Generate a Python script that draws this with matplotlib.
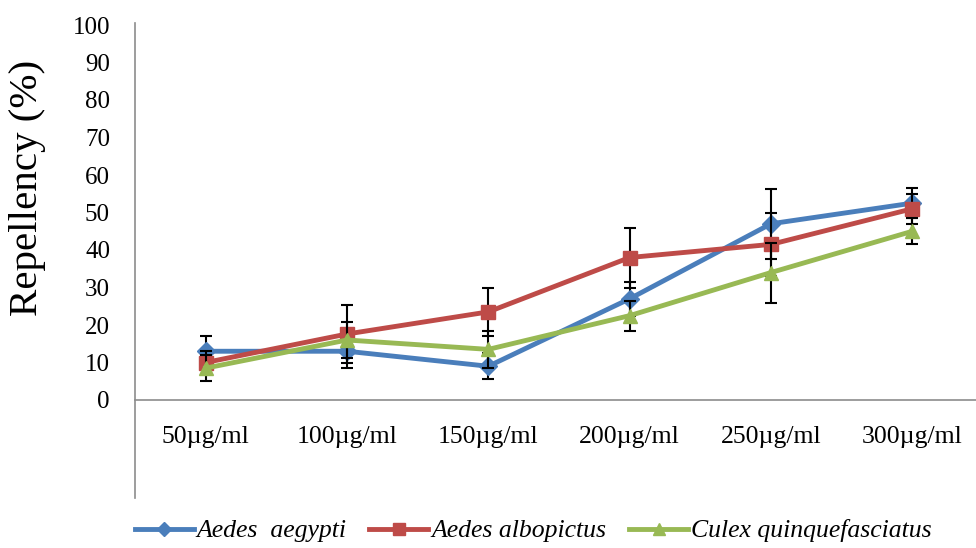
import matplotlib
matplotlib.use("Agg")
import matplotlib.pyplot as plt
from matplotlib.lines import Line2D

# Repellency of three mosquito species at increasing concentrations
concentrations = ["50µg/ml", "100µg/ml", "150µg/ml", "200µg/ml", "250µg/ml", "300µg/ml"]
aedes_aegypti = [13, 13, 9, 27, 47, 52.5]
aedes_aegypti_err = [4, 4.5, 3.5, 4.5, 9.3, 4]
aedes_albopictus = [10, 17.6, 23.5, 38, 41.5, 51]
aedes_albopictus_err = [3, 7.7, 6.5, 8, 8.5, 4]
culex_quinque = [8.5, 16, 13.5, 22.5, 34, 45]
culex_quinque_err = [3.5, 4.8, 5, 4, 8, 3.5]
y_ticks = [0, 10, 20, 30, 40, 50, 60, 70, 80, 90, 100]

series = [
    ("Aedes  aegypti", aedes_aegypti, aedes_aegypti_err, "#4A7EBB", "D", 9.5),
    ("Aedes albopictus", aedes_albopictus, aedes_albopictus_err, "#BE4B48", "s", 10.5),
    ("Culex quinquefasciatus", culex_quinque, culex_quinque_err, "#98B954", "^", 10.5),
]

plt.rcParams["font.family"] = ["Liberation Serif", "DejaVu Serif"]

W, H = 976, 548
fig = plt.figure(figsize=(W / 100, H / 100), dpi=100)
ax = fig.add_axes([135 / W, (H - 400) / H, (W - 135) / W, 375 / H])

x = list(range(len(concentrations)))
handles = []
for i, (name, vals, errs, color, marker, ms) in enumerate(series):
    ax.errorbar(x, vals, yerr=errs, fmt="none", ecolor="black",
                elinewidth=1.5, capsize=4.5, capthick=1.5, zorder=2 + 2 * i)
    ax.plot(x, vals, color=color, lw=3.5, marker=marker, ms=ms,
            mec=color, mfc=color, zorder=3 + 2 * i)
    handles.append(Line2D([], [], color=color, lw=3.5, marker=marker,
                          ms=ms * 0.8, mec=color, mfc=color))

ax.set_xlim(-0.5, 5.45)
ax.set_ylim(0, 100)
ax.set_yticks(y_ticks)
ax.set_xticks(x)
ax.set_xticklabels(concentrations)
ax.tick_params(axis="y", length=0, pad=18, labelsize=18)
ax.tick_params(axis="x", length=0, pad=19, labelsize=18.5)

for side in ("top", "right"):
    ax.spines[side].set_visible(False)
for side in ("left", "bottom"):
    ax.spines[side].set_color("#8c8c8c")
    ax.spines[side].set_linewidth(1.2)
ax.spines["left"].set_bounds(-26, 100.5)

fig.text(28 / W, 1 - 188 / H, "Repellency (%)", rotation=90,
         ha="center", va="center", fontsize=29.5)

fig.legend(handles, [s[0] for s in series], loc="center",
           bbox_to_anchor=(533 / W, 1 - 531 / H), ncol=3, frameon=False,
           prop={"style": "italic", "size": 18.5}, handlelength=2.3,
           handletextpad=0.1, columnspacing=0.9)

fig.savefig("out.png", dpi=100)
